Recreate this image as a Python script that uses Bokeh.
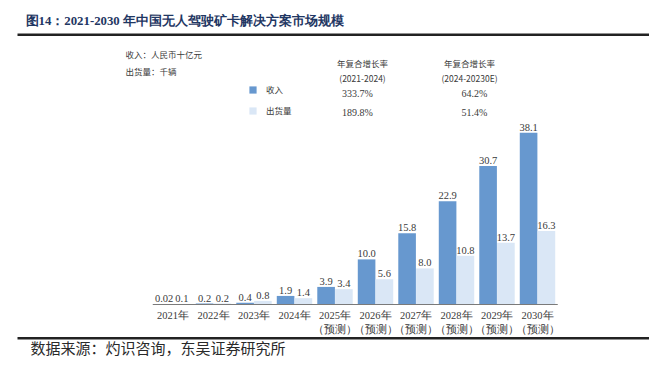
from bokeh.plotting import figure
from bokeh.models import (ColumnDataSource, Range1d, Label, BoxAnnotation,
                          Legend, LegendItem)
from bokeh.core.properties import value
from bokeh.transform import dodge
from bokeh.embed import file_html
from bokeh.resources import INLINE

# ---------------- data ----------------
years = ["2021", "2022", "2023", "2024", "2025", "2026", "2027", "2028", "2029", "2030"]
year_labels = ["2021年", "2022年", "2023年", "2024年",
               "2025年\n（预测）", "2026年\n（预测）", "2027年\n（预测）",
               "2028年\n（预测）", "2029年\n（预测）", "2030年\n（预测）"]
revenue = [0.02, 0.2, 0.4, 1.9, 3.9, 10.0, 15.8, 22.9, 30.7, 38.1]
shipment = [0.1, 0.2, 0.8, 1.4, 3.4, 5.6, 8.0, 10.8, 13.7, 16.3]
revenue_text = ["0.02", "0.2", "0.4", "1.9", "3.9", "10.0", "15.8", "22.9", "30.7", "38.1"]
shipment_text = ["0.1", "0.2", "0.8", "1.4", "3.4", "5.6", "8.0", "10.8", "13.7", "16.3"]
series_names = ["收入", "出货量"]
cagr_headers = ["年复合增长率\n(2021-2024)", "年复合增长率\n(2024-20230E)"]
cagr_revenue = ["333.7%", "64.2%"]
cagr_shipment = ["189.8%", "51.4%"]

title_text = "图14：2021-2030 年中国无人驾驶矿卡解决方案市场规模"
unit_notes = ["收入：人民币十亿元", "出货量：千辆"]
source_text = "数据来源：灼识咨询，东吴证券研究所"

REV_COLOR = "#6798cf"
SHIP_COLOR = "#dae7f6"
TEXT_COLOR = "#3a3a3a"
SERIF = "Liberation Serif"
SANS = "Noto Sans CJK SC"

idx = list(range(len(years)))
src = ColumnDataSource(dict(i=idx, label=year_labels, revenue=revenue, shipment=shipment,
                            rev_t=revenue_text, ship_t=shipment_text))

# The frame covers the whole 649x372 canvas.
W, H = 649, 372
X0_PX, GROUP_PX = 172.5, 40.5      # page x of first group centre, group spacing
Y0_PX, PX_PER_UNIT = 304, 4.51     # page y of the baseline, px per value unit
x_range = Range1d(-X0_PX / GROUP_PX, (W - X0_PX) / GROUP_PX)
y_range = Range1d(-(H - Y0_PX) / PX_PER_UNIT, Y0_PX / PX_PER_UNIT)

p = figure(width=W, height=H, x_range=x_range, y_range=y_range,
           output_backend="svg", toolbar_location=None,
           min_border=0, min_border_left=0, min_border_right=0,
           min_border_top=0, min_border_bottom=0)
p.outline_line_color = None
p.background_fill_color = "white"
p.border_fill_color = "white"
p.grid.visible = False
p.axis.visible = False

BW = 0.435
r_rev = p.vbar(x=dodge("i", -0.22), top="revenue", width=BW, bottom=0,
               source=src, fill_color=REV_COLOR, line_color=None)
r_ship = p.vbar(x=dodge("i", 0.22), top="shipment", width=BW, bottom=0,
                source=src, fill_color=SHIP_COLOR, line_color=None)

# baseline (category axis line)
p.segment(x0=-0.5, x1=len(years) - 0.5, y0=0, y1=0, line_color="#7a7a7a", line_width=1)

# category labels
p.text(x="i", y=0, text="label", source=src, text_align="center", text_baseline="top",
       y_offset=5, text_font=value(SERIF), text_font_size="10.5px",
       text_color=TEXT_COLOR, text_line_height=1.3)

# value labels
p.text(x=dodge("i", -0.22), y="revenue", text="rev_t", source=src,
       text_align="center", text_baseline="bottom", y_offset=-2,
       text_font=value(SERIF), text_font_size="10.5px", text_color=TEXT_COLOR)
p.text(x=dodge("i", 0.22), y="shipment", text="ship_t", source=src,
       text_align="center", text_baseline="bottom", y_offset=-2,
       text_font=value(SERIF), text_font_size="10.5px", text_color=TEXT_COLOR)

legend = Legend(items=[LegendItem(label=series_names[0], renderers=[r_rev]),
                       LegendItem(label=series_names[1], renderers=[r_ship])],
                location=(248, H - 116), orientation="vertical",
                glyph_width=9, glyph_height=9, label_height=9, spacing=9,
                label_standoff=9, padding=0, margin=0,
                border_line_color=None, background_fill_alpha=0,
                label_text_font=SANS, label_text_font_size="8.5px",
                label_text_color=TEXT_COLOR)
p.add_layout(legend)


def lbl(text, px, py, size, font=SANS, color=TEXT_COLOR, align="left",
        baseline="middle", style="normal"):
    p.add_layout(Label(x=px, y=H - py, x_units="screen", y_units="screen",
                       text=text, text_font=font, text_font_size=size,
                       text_color=color, text_align=align, text_baseline=baseline,
                       text_font_style=style, text_line_height=1.3))


def rule(py_top, py_bottom):
    p.add_layout(BoxAnnotation(left=17, right=W, top=H - py_top, bottom=H - py_bottom,
                               left_units="screen", right_units="screen",
                               top_units="screen", bottom_units="screen",
                               fill_color="#222222", fill_alpha=1, line_color=None,
                               line_alpha=0))


# title & rules
lbl(title_text, 25, 20, "12.8px", font=SERIF, color="#1f3763", style="bold")
rule(33, 35.5)
rule(336.5, 339)
lbl(source_text, 30, 347, "15px", font=SANS, color="#2a2a2a")

# unit notes
lbl(unit_notes[0], 125, 53, "8.5px")
lbl(unit_notes[1], 125, 70, "8.5px")

# CAGR table
lbl(cagr_headers[0], 362, 70, "8.5px", align="center")
lbl(cagr_headers[1], 469, 70, "8.5px", align="center")
lbl(cagr_revenue[0], 357, 93, "10px", font=SERIF, align="center")
lbl(cagr_shipment[0], 357, 112, "10px", font=SERIF, align="center")
lbl(cagr_revenue[1], 474, 93, "10px", font=SERIF, align="center")
lbl(cagr_shipment[1], 474, 112, "10px", font=SERIF, align="center")

open("out.html", "w").write(file_html(p, INLINE))
